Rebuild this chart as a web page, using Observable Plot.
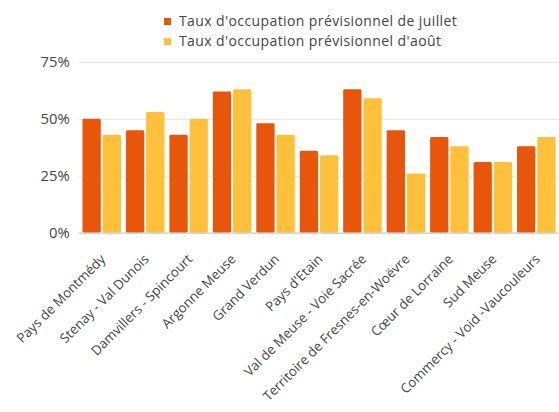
<!DOCTYPE html>
<html>
<head>
<meta charset="utf-8">
<script src="https://cdn.jsdelivr.net/npm/d3@7"></script>
<script src="https://cdn.jsdelivr.net/npm/@observablehq/plot@0.6"></script>
<style>
  html, body { margin: 0; padding: 0; background: #fff; overflow: hidden; width: 559px; height: 412px; }
  body { font-family: "Open Sans", sans-serif; color: #444; position: relative; }
  #legend { position: relative; height: 50px; }
  .item { position: absolute; left: 164px; font-size: 14px; line-height: 19.5px; letter-spacing: 0.4px; white-space: nowrap; }
  .sw { display: inline-block; width: 7px; height: 7px; margin-right: 8px; vertical-align: 1px; }
</style>
</head>
<body>
<div id="legend"></div>
<div id="chart"></div>
<script>
const regions = ["Pays de Montmédy", "Stenay - Val Dunois", "Damvillers - Spincourt", "Argonne Meuse", "Grand Verdun", "Pays d'Etain", "Val de Meuse - Voie Sacrée", "Territoire de Fresnes-en-Woëvre", "Cœur de Lorraine", "Sud Meuse", "Commercy - Void -Vaucouleurs"];
const julyValues = [0.50, 0.45, 0.43, 0.62, 0.48, 0.36, 0.63, 0.45, 0.42, 0.31, 0.38];
const augustValues = [0.43, 0.53, 0.50, 0.63, 0.43, 0.34, 0.59, 0.26, 0.38, 0.31, 0.42];
const seriesNames = ["Taux d'occupation prévisionnel de juillet", "Taux d'occupation prévisionnel d'août"];
const seriesColors = ["#E8560C", "#FFC13B"];
const yTicks = [0, 0.25, 0.5, 0.75];

// legend
const legend = document.getElementById("legend");
seriesNames.forEach((name, i) => {
  const d = document.createElement("div");
  d.className = "item";
  d.style.top = (11 + i * 19.5) + "px";
  d.innerHTML = `<span class="sw" style="background:${seriesColors[i]}"></span>`;
  d.appendChild(document.createTextNode(name));
  legend.appendChild(d);
});

const july = regions.map((r, i) => ({region: r, value: julyValues[i]}));
const august = regions.map((r, i) => ({region: r, value: augustValues[i]}));

const width = 566, marginLeft = 80, marginRight = 0, padIn = 0.09;
const step = (width - marginLeft - marginRight) / (regions.length - padIn);
const half = step * (1 - padIn) / 2;

const chart = Plot.plot({
  width,
  height: 362,
  marginLeft,
  marginRight,
  marginTop: 12,
  marginBottom: 177,
  style: {fontFamily: "Open Sans, sans-serif", color: "#444", background: "#fff", overflow: "hidden"},
  x: {domain: regions, paddingInner: padIn, paddingOuter: 0, label: null, tickSize: 0, tickRotate: -45, tickPadding: 6},
  y: {domain: [0, 0.75], ticks: yTicks, tickFormat: d => Math.round(d * 100) + "%", label: null, tickSize: 0, tickPadding: 10},
  marks: [
    Plot.ruleY(yTicks.slice(1), {stroke: "#e3e3e3", strokeWidth: 1}),
    Plot.barY(july, {x: "region", y: "value", fill: seriesColors[0], insetLeft: 0.5, insetRight: half + 0.7, rx: 1.5}),
    Plot.barY(august, {x: "region", y: "value", fill: seriesColors[1], insetLeft: half + 0.7, insetRight: 0.5, rx: 1.5}),
    Plot.ruleY([0], {stroke: "#c8c8c8", strokeWidth: 1.2})
  ]
});
chart.querySelectorAll("text").forEach(t => {
  const s = t.textContent;
  if (s.endsWith("%")) {
    t.style.fontSize = "15px";
  } else if (regions.includes(s)) {
    t.style.fontSize = "13.5px";
    t.setAttribute("transform", `translate(1,18) ${t.getAttribute("transform") || ""}`);
  }
});
document.getElementById("chart").appendChild(chart);
</script>
</body>
</html>
